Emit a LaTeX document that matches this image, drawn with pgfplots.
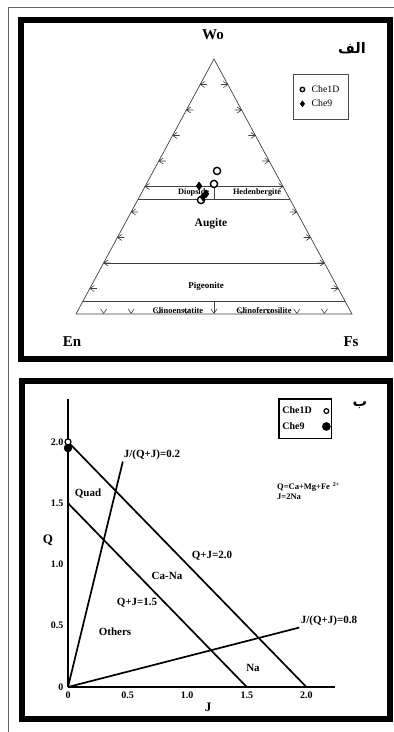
\documentclass[border=0pt]{standalone}
\usepackage{pgfplots}
\pgfplotsset{compat=1.18}
\usepackage{fontspec}
\setmainfont{Liberation Serif}
\newfontfamily\arabicfont[Script=Arabic]{DejaVu Sans}
\TeXXeTstate=1
\pgfdeclareplotmark{chevL}{%
 \pgfpathmoveto{\pgfqpoint{4.5pt}{3pt}}%
 \pgfpathlineto{\pgfqpoint{0pt}{0pt}}%
 \pgfpathlineto{\pgfqpoint{4.5pt}{-3pt}}%
 \pgfpathmoveto{\pgfqpoint{0pt}{0pt}}%
 \pgfpathlineto{\pgfqpoint{7pt}{0pt}}%
 \pgfusepathqstroke}
\pgfdeclareplotmark{chevR}{%
 \pgfpathmoveto{\pgfqpoint{-4.5pt}{3pt}}%
 \pgfpathlineto{\pgfqpoint{0pt}{0pt}}%
 \pgfpathlineto{\pgfqpoint{-4.5pt}{-3pt}}%
 \pgfpathmoveto{\pgfqpoint{0pt}{0pt}}%
 \pgfpathlineto{\pgfqpoint{-7pt}{0pt}}%
 \pgfusepathqstroke}
\pgfdeclareplotmark{chevB}{%
 \pgfpathmoveto{\pgfqpoint{-3pt}{5pt}}%
 \pgfpathlineto{\pgfqpoint{0pt}{0.6pt}}%
 \pgfpathlineto{\pgfqpoint{3pt}{5pt}}%
 \pgfusepathqstroke}
\begin{document}
\begin{tikzpicture}[x=1pt,y=1pt]
\useasboundingbox (0,0) rectangle (394,732);
% frames
\draw[line width=0.8pt, black!60] (8,-2) -- (8,725) -- (396,725);
\draw[line width=5.5pt] (21,712) rectangle (390,373);
\draw[line width=5.5pt] (22,351) rectangle (390,13);

% ---------------- top panel: pyroxene ternary (Wo-En-Fs), cartesian x=Fs+Wo/2, y=Wo
\begin{axis}[at={(76pt,418pt)}, anchor=south west, scale only axis,
  width=276pt, height=255pt, xmin=0, xmax=1, ymin=0, ymax=1,
  axis lines=none, clip=false,
  legend style={at={(0.786,0.941)}, anchor=north west, draw=black!70,
    line width=0.6pt, font=\fontsize{9.8}{10}\selectfont,
    inner xsep=7pt, inner ysep=9pt, row sep=2pt, column sep=5pt},
  legend cell align=left]
\addplot[forget plot, line width=0.7pt, black!75, line join=miter] coordinates {(0,0)(0.5,1)(1,0)(0,0)};
\addplot[forget plot, line width=0.7pt, black!75] coordinates {(0.25,0.5)(0.75,0.5)};
\addplot[forget plot, line width=0.7pt, black!75] coordinates {(0.225,0.45)(0.775,0.45)};
\addplot[forget plot, line width=0.7pt, black!75] coordinates {(0.1,0.2)(0.9,0.2)};
\addplot[forget plot, line width=0.7pt, black!75] coordinates {(0.025,0.05)(0.975,0.05)};
\addplot[forget plot, line width=0.7pt, black!75] coordinates {(0.5,0.45)(0.5,0.5)};
\addplot[forget plot, line width=0.6pt, black!75] coordinates {(0.5,0.05)(0.5,0.003)};
\addplot[forget plot, only marks, black!75, mark=chevL, mark options={solid,line width=0.6pt}] coordinates {(0.05,0.1)(0.1,0.2)(0.15,0.3)(0.2,0.4)(0.25,0.5)(0.3,0.6)(0.35,0.7)(0.4,0.8)(0.45,0.9)};
\addplot[forget plot, only marks, black!75, mark=chevR, mark options={solid,line width=0.6pt}] coordinates {(0.95,0.1)(0.9,0.2)(0.85,0.3)(0.8,0.4)(0.75,0.5)(0.7,0.6)(0.65,0.7)(0.6,0.8)(0.55,0.9)};
\addplot[forget plot, only marks, black!75, mark=chevB, mark options={solid,line width=0.6pt}] coordinates {(0.1,0)(0.2,0)(0.3,0)(0.4,0)(0.5,0)(0.6,0)(0.7,0)(0.8,0)(0.9,0)};
% samples
\addplot[only marks, mark=*, mark size=3.6pt, mark options={fill=white, draw=black, line width=1.4pt},
  legend image post style={mark size=2.2pt, line width=0.8pt}]
  coordinates {(0.511,0.561)(0.500,0.510)(0.453,0.447)};
\addlegendentry{Che1D}
\addplot[only marks, mark=diamond*, mark size=4pt, black,
  legend image post style={mark size=2.8pt}]
  coordinates {(0.446,0.502)(0.471,0.471)(0.460,0.459)};
\addlegendentry{Che9}
\end{axis}

\node[font=\bfseries\fontsize{15}{16}\selectfont] at (213,697) {Wo};
\node[font=\bfseries\fontsize{15}{16}\selectfont] at (72,390) {En};
\node[font=\bfseries\fontsize{15}{16}\selectfont] at (351,390) {Fs};
\node[font=\arabicfont\bfseries\fontsize{14.5}{16}\selectfont] at (352,684) {\beginR الف\endR};
\node[font=\bfseries\fontsize{8.3}{9}\selectfont, anchor=west, inner sep=0pt] at (178,539) {Diopside};
\node[font=\bfseries\fontsize{8.3}{9}\selectfont] at (257,539) {Hedenbergite};
\node[font=\bfseries\fontsize{11.5}{12}\selectfont] at (211,508) {Augite};
\node[font=\bfseries\fontsize{9}{10}\selectfont] at (206,446) {Pigeonite};
\node[font=\bfseries\fontsize{8.5}{9}\selectfont] at (178,421) {Clinoenstatite};
\node[font=\bfseries\fontsize{8.5}{9}\selectfont] at (264,421) {Clinoferrosilite};

% ---------------- bottom panel: Q-J diagram
\begin{axis}[at={(68pt,45pt)}, anchor=south west, scale only axis,
  width=267pt, height=288pt, xmin=0, xmax=2.24, ymin=0, ymax=2.35,
  axis x line=bottom, axis y line=left,
  axis line style={line width=1.6pt, -},
  xtick={0,0.5,1,1.5,2}, xticklabels={0,0.5,1.0,1.5,2.0},
  ytick={0,0.5,1,1.5,2}, yticklabels={0,0.5,1.0,1.5,2.0},
  major tick length=0pt,
  /pgf/number format/assume math mode=true,
  tick label style={font=\bfseries\fontsize{10}{11}\selectfont},
  xticklabel style={yshift=-1pt}, yticklabel style={xshift=-1pt},
  clip=false,
  legend plot pos=right,
  legend style={at={(0.787,1.003)}, anchor=north west, draw=black,
    line width=1.4pt, font=\bfseries\fontsize{10}{11}\selectfont,
    inner xsep=1.5pt, inner ysep=6pt, row sep=3pt, column sep=9pt},
  legend cell align=left]
\addplot[forget plot, line width=1.7pt] coordinates {(0,2)(2,0)};
\addplot[forget plot, line width=1.7pt] coordinates {(0,1.5)(1.5,0)};
\addplot[forget plot, line width=1.7pt] coordinates {(0,0)(0.46,1.84)};
\addplot[forget plot, line width=1.7pt] coordinates {(0,0)(1.94,0.485)};
\addplot[only marks, mark=*, mark size=3pt, mark options={fill=white, draw=black, line width=1.2pt},
  legend image post style={mark size=2.4pt, line width=1.2pt}]
  coordinates {(0,2.0)};
\addlegendentry{Che1D}
\addplot[only marks, mark=*, mark size=4pt, black,
  legend image post style={mark size=3.6pt}]
  coordinates {(0,1.95)};
\addlegendentry{Che9}
\end{axis}

\node[font=\bfseries\fontsize{11}{12}\selectfont] at (152,277) {J/(Q+J)=0.2};
\node[font=\bfseries\fontsize{11}{12}\selectfont] at (88,238) {Quad};
\node[font=\bfseries\fontsize{13}{14}\selectfont] at (48,192) {Q};
\node[font=\bfseries\fontsize{11}{12}\selectfont] at (212,176) {Q+J=2.0};
\node[font=\bfseries\fontsize{11}{12}\selectfont] at (167,156) {Ca-Na};
\node[font=\bfseries\fontsize{11}{12}\selectfont] at (137,129) {Q+J=1.5};
\node[font=\bfseries\fontsize{11}{12}\selectfont] at (115,100) {Others};
\node[font=\bfseries\fontsize{11}{12}\selectfont] at (329,111) {J/(Q+J)=0.8};
\node[font=\bfseries\fontsize{11}{12}\selectfont] at (253,64) {Na};
\node[font=\bfseries\fontsize{13}{14}\selectfont] at (208,25) {J};
\node[font=\bfseries\fontsize{8.5}{9}\selectfont, anchor=west, inner sep=0pt] at (277,245) {Q=Ca+Mg+Fe\hspace{3pt}\textsuperscript{2+}};
\node[font=\bfseries\fontsize{8.5}{9}\selectfont, anchor=west, inner sep=0pt] at (277,235) {J=2Na};
\node[font=\arabicfont\bfseries\fontsize{14.5}{16}\selectfont] at (360,327) {\beginR ب\endR};
\end{tikzpicture}
\end{document}
